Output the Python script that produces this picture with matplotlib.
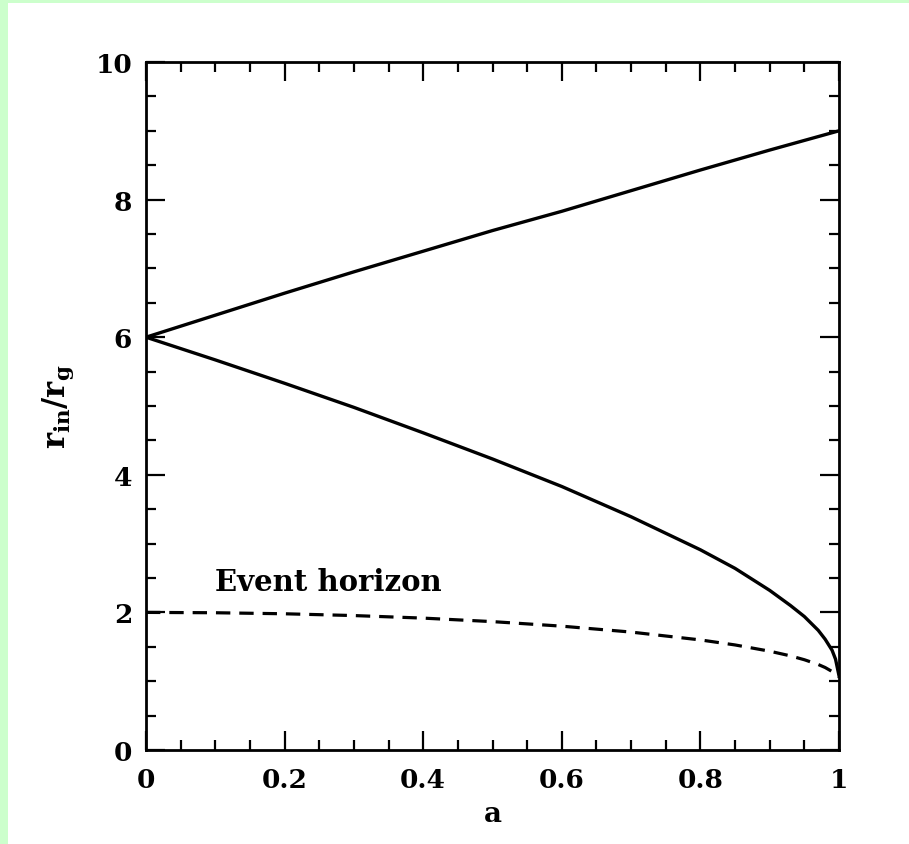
import matplotlib
matplotlib.use("Agg")
import matplotlib.pyplot as plt
from matplotlib.patches import Rectangle
from matplotlib.ticker import MultipleLocator

# spin values and radii
spin = [0.0, 0.1, 0.2, 0.3, 0.4, 0.5, 0.6, 0.7, 0.8, 0.85, 0.9, 0.93,
        0.95, 0.97, 0.98, 0.99, 0.995, 1.0]
r_prograde = [6.0, 5.67, 5.33, 4.98, 4.61, 4.23, 3.83, 3.39, 2.91, 2.64,
              2.32, 2.10, 1.94, 1.74, 1.61, 1.45, 1.32, 1.08]
r_horizon = [2.0, 1.995, 1.98, 1.954, 1.917, 1.866, 1.80, 1.714, 1.60,
             1.527, 1.436, 1.368, 1.312, 1.243, 1.199, 1.141, 1.10, 1.06]

spin_retro = [0.0, 0.1, 0.2, 0.3, 0.4, 0.5, 0.6, 0.7, 0.8, 0.9, 1.0]
r_retrograde = [6.0, 6.32, 6.64, 6.95, 7.25, 7.55, 7.83, 8.13, 8.43, 8.72, 9.0]

FONT = "DejaVu Serif"
plt.rcParams["mathtext.fontset"] = "dejavuserif"

fig = plt.figure(figsize=(9.09, 8.45), dpi=100, facecolor="white")
# light green page border on left and top
fig.patches.append(Rectangle((0, 0), 8 / 909, 1, transform=fig.transFigure,
                             facecolor="#ccffcc", edgecolor="none", zorder=-1))
fig.patches.append(Rectangle((0, 1 - 4 / 845), 1, 4 / 845, transform=fig.transFigure,
                             facecolor="#ccffcc", edgecolor="none", zorder=-1))

ax = fig.add_axes([146 / 909, 94 / 845, 693 / 909, 688 / 845])
ax.plot(spin_retro, r_retrograde, color="black", lw=2.4)
ax.plot(spin, r_prograde, color="black", lw=2.4)
ax.plot(spin, r_horizon, color="black", lw=2.3, ls=(0, (4.5, 2.8)))

ax.text(0.10, 2.33, "Event horizon", fontsize=21, fontweight="bold", family=FONT)

ax.set_xlim(0, 1)
ax.set_ylim(0, 10)
ax.xaxis.set_major_locator(MultipleLocator(0.2))
ax.xaxis.set_minor_locator(MultipleLocator(0.05))
ax.yaxis.set_major_locator(MultipleLocator(2))
ax.yaxis.set_minor_locator(MultipleLocator(0.5))
ax.set_xticks([0, 0.2, 0.4, 0.6, 0.8, 1.0])
ax.set_xticklabels(["0", "0.2", "0.4", "0.6", "0.8", "1"])

ax.tick_params(which="both", direction="in", top=True, right=True, width=1.6,
               labelsize=19)
ax.tick_params(axis="x", pad=12)
ax.tick_params(axis="y", pad=10)
ax.tick_params(which="major", length=14)
ax.tick_params(which="minor", length=7)
for lab in ax.get_xticklabels() + ax.get_yticklabels():
    lab.set_fontweight("bold")
    lab.set_family(FONT)
for s in ax.spines.values():
    s.set_linewidth(2.0)

ax.set_xlabel("a", fontsize=20, fontweight="bold", family=FONT, labelpad=6)
ax.set_ylabel(r"$\mathbf{r_{in}/r_g}$", fontsize=22, labelpad=14)

fig.savefig("out.png", dpi=100, facecolor="white")
